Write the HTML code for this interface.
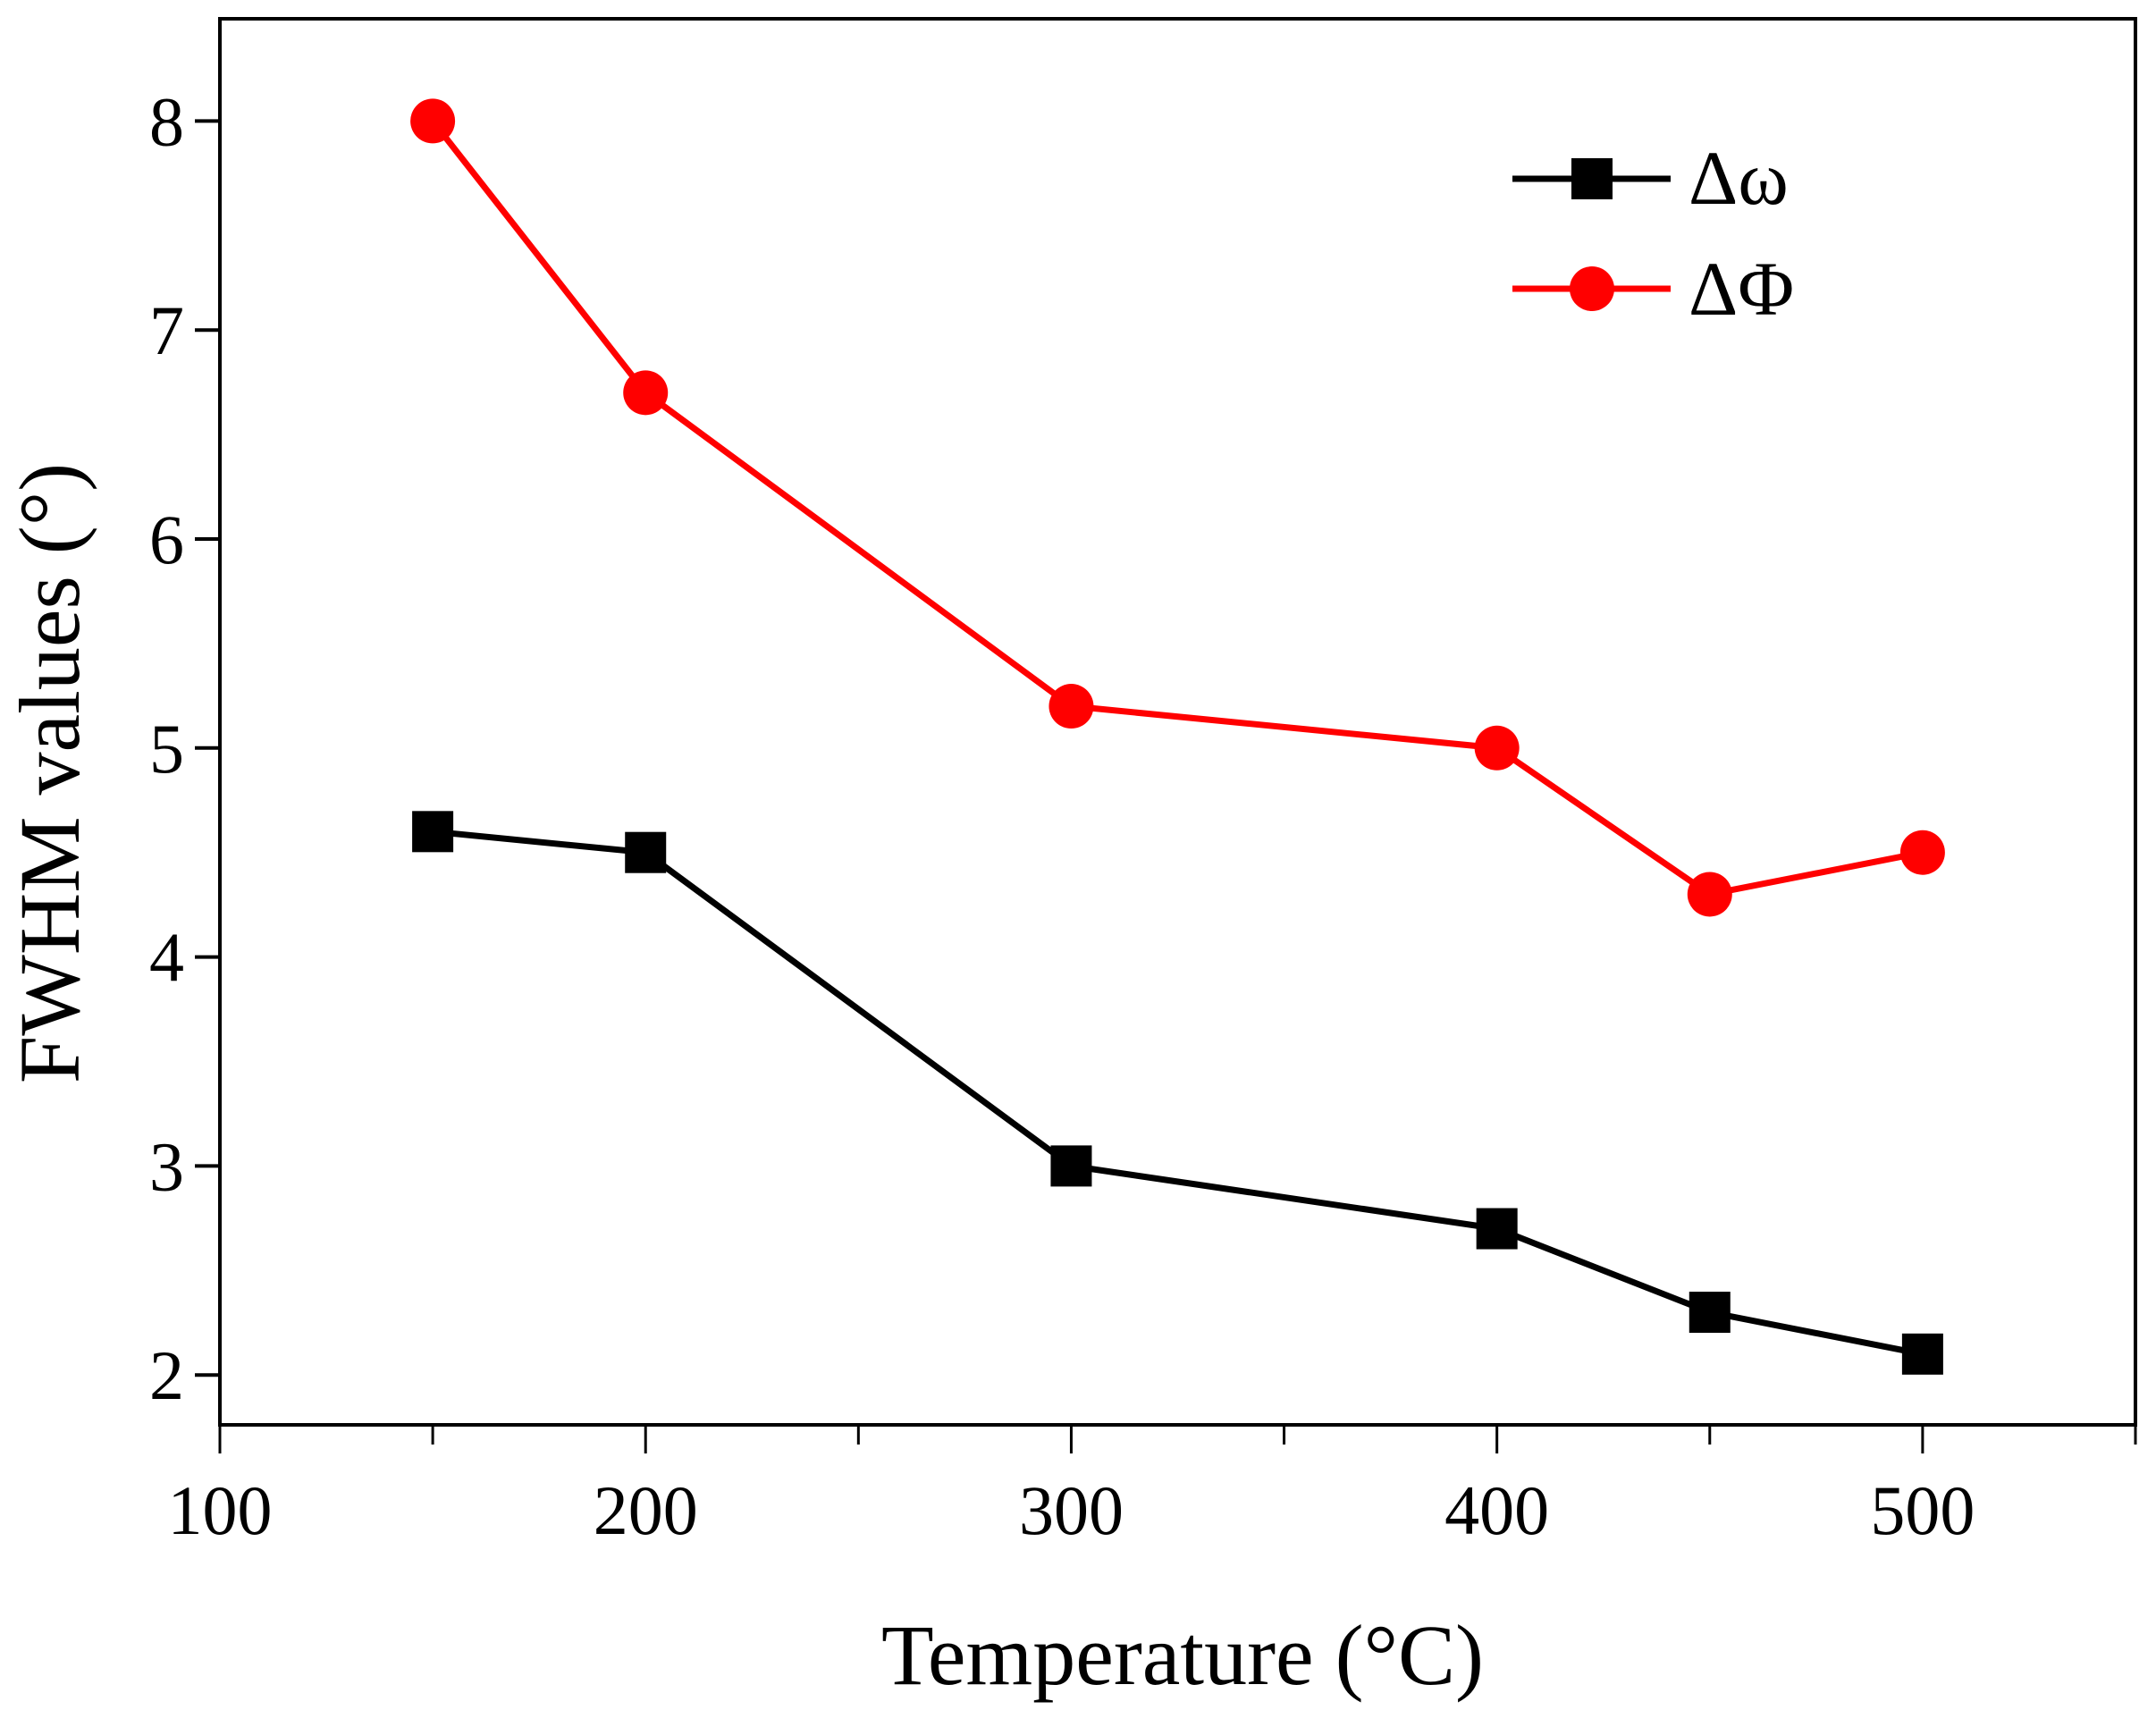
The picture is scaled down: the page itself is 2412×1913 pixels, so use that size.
<!DOCTYPE html>
<html><head><meta charset="utf-8"><style>
html,body{margin:0;padding:0;background:#fff}
svg{display:block}
text{font-family:"Liberation Serif",serif;fill:#000}
</style></head><body>
<svg id="chart" width="2412" height="1913" viewBox="0 0 2412 1913" xmlns="http://www.w3.org/2000/svg">
<g id="plot"></g>
</svg>
<script>
const temps=[150,200,300,400,450,500];
const omegaVals=[4.6,4.5,3.0,2.7,2.3,2.1];
const phiVals=[8.0,6.7,5.2,5.0,4.3,4.5];
const xTicks=[100,200,300,400,500];
const xMinor=[150,250,350,450,550];
const yTicks=[2,3,4,5,6,7,8];

const L=246,R=2389,T=21,B=1594;
const xMin=100,xMax=550,yAt8=135.4,yPerUnit=233.8;
const X=v=>L+(v-xMin)*(R-L)/(xMax-xMin);
const Y=v=>yAt8+(8-v)*yPerUnit;
const NS='http://www.w3.org/2000/svg';
const g=document.getElementById('plot');
function mk(tag,attrs,parent){const e=document.createElementNS(NS,tag);for(const k in attrs)e.setAttribute(k,attrs[k]);(parent||g).appendChild(e);return e;}

let frame=mk('rect',{x:L,y:T,width:R-L,height:B-T,fill:'none',stroke:'#000','stroke-width':4});



yTicks.forEach(v=>{
  let t=mk('line',{x1:L-28,x2:L,y1:Y(v),y2:Y(v),stroke:'#000','stroke-width':4});
  
  
  let tx=mk('text',{x:L-40,y:Y(v)+27,'text-anchor':'end','font-size':78});
  tx.textContent=v;
  
  
});
xTicks.forEach(v=>{
  let t=mk('line',{x1:X(v),x2:X(v),y1:B,y2:B+32,stroke:'#000','stroke-width':3});
  
  
  let tx=mk('text',{x:X(v),y:1716,'text-anchor':'middle','font-size':78});
  tx.textContent=v;
  
  
});
xMinor.forEach(v=>{
  let t=mk('line',{x1:X(v),x2:X(v),y1:B,y2:B+22,stroke:'#000','stroke-width':3});
  
  
});

function series(vals,color,shape,name){
  let pts=temps.map((t,i)=>X(t)+','+Y(vals[i])).join(' ');
  let pl=mk('polyline',{points:pts,fill:'none',stroke:color,'stroke-width':7});
  
  
  temps.forEach((t,i)=>{
    let m;
    if(shape==='sq') m=mk('rect',{x:X(t)-23,y:Y(vals[i])-23,width:46,height:46,fill:color});
    else m=mk('circle',{cx:X(t),cy:Y(vals[i]),r:25,fill:color});
    
    
  });
}
series(omegaVals,'#000','sq','delta-omega');
series(phiVals,'#ff0000','ci','delta-phi');

let l1=mk('line',{x1:1692,x2:1869,y1:200,y2:200,stroke:'#000','stroke-width':7});


let m1=mk('rect',{x:1758,y:177,width:46,height:46,fill:'#000'});


let t1=mk('text',{x:1889,y:228,'font-size':86});
t1.textContent='Δω';


let l2=mk('line',{x1:1692,x2:1869,y1:323,y2:323,stroke:'#ff0000','stroke-width':7});


let m2=mk('circle',{cx:1781,cy:323,r:25,fill:'#ff0000'});


let t2=mk('text',{x:1889,y:352,'font-size':86});
t2.textContent='ΔΦ';



let xt=mk('text',{x:1323,y:1884,'text-anchor':'middle','font-size':96});
xt.textContent='Temperature (°C)';


let yt=mk('text',{x:0,y:0,'text-anchor':'middle','font-size':96,transform:'translate(88,865) rotate(-90)'});
yt.textContent='FWHM values (°)';


</script>
</body></html>
